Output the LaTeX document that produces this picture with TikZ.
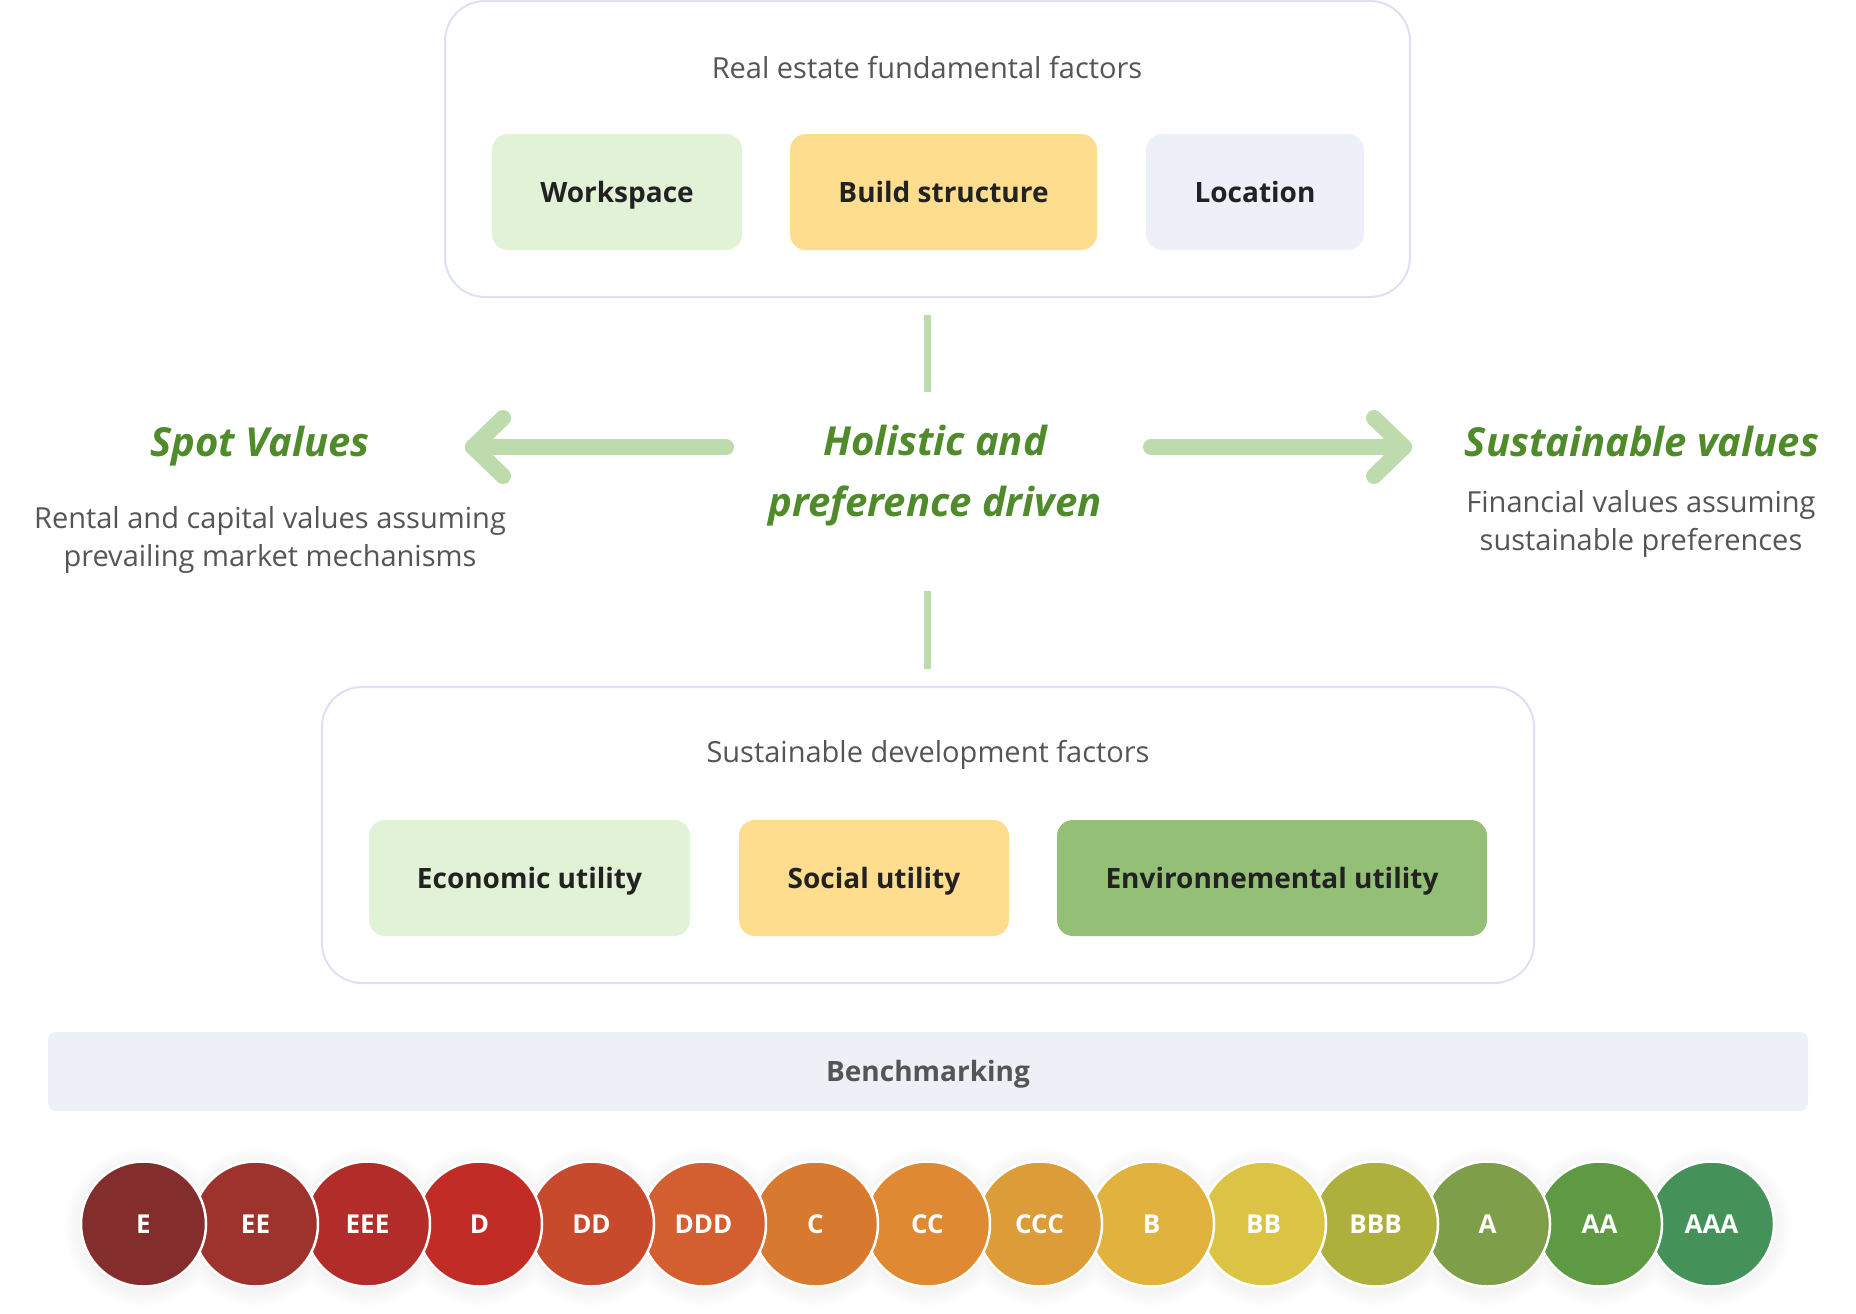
\documentclass[tikz,border=0pt]{standalone}
\usepackage{fontspec}
\setmainfont{Open Sans}
\definecolor{boxline}{HTML}{DDE1F3}
\definecolor{labeltext}{HTML}{222222}
\definecolor{graytext}{HTML}{555555}
\definecolor{arrowgreen}{HTML}{BDDBAC}
\definecolor{headgreen}{HTML}{4F8A2B}
\definecolor{fwork}{HTML}{E1F2D7}
\definecolor{fbuild}{HTML}{FEDD8E}
\definecolor{floc}{HTML}{EDF0F9}
\definecolor{fenv}{HTML}{94BF77}
\definecolor{fbench}{HTML}{EEF0F8}
\definecolor{cE}{HTML}{832E2C}
\definecolor{cEE}{HTML}{9E332E}
\definecolor{cEEE}{HTML}{B22D29}
\definecolor{cD}{HTML}{C12D26}
\definecolor{cDD}{HTML}{C84A2D}
\definecolor{cDDD}{HTML}{D35F31}
\definecolor{cC}{HTML}{D7792E}
\definecolor{cCC}{HTML}{DF8A33}
\definecolor{cCCC}{HTML}{DC9C38}
\definecolor{cB}{HTML}{E1B33E}
\definecolor{cBB}{HTML}{DBC443}
\definecolor{cBBB}{HTML}{AEB03E}
\definecolor{cA}{HTML}{7F9E4A}
\definecolor{cAA}{HTML}{5E9A44}
\definecolor{cAAA}{HTML}{45915A}
\tikzset{
 outerbox/.style={draw=boxline, line width=2pt, rounded corners=40pt, fill=white, inner sep=0pt},
 factor/.style={rounded corners=16pt, font=\bfseries\fontsize{28}{34}\selectfont, text=labeltext, text height=20pt, text depth=0pt, inner sep=0pt, minimum height=116pt},
 boxtitle/.style={font=\fontsize{29}{35}\selectfont, text=graytext},
 conn/.style={draw=arrowgreen, line width=7pt},
 bigarrow/.style={draw=arrowgreen, line width=16pt, line cap=round, line join=round},
 heading/.style={font=\bfseries\itshape\fontsize{40}{61}\selectfont, text=headgreen, align=center},
 desc/.style={font=\fontsize{29}{38}\selectfont, text=graytext, align=center},
 rating/.style={circle, draw=white, line width=2.5pt, minimum size=125pt, inner sep=0pt, font=\bfseries\fontsize{26}{30}\selectfont, text=white, text height=19pt, text depth=0pt},
}
\begin{document}
\begin{tikzpicture}[x=1pt,y=-1pt]
\useasboundingbox[fill=white] (0,0) rectangle (1856,1314);

% top box
\node[outerbox, minimum width=965pt, minimum height=296pt] (top) at (927.5,149) {};
\node[boxtitle] (toptitle) at (927,68) {Real estate fundamental factors};
\node[factor, fill=fwork, minimum width=250pt] (work) at (617,192) {Workspace};
\node[factor, fill=fbuild, minimum width=307pt] (build) at (943.5,192) {Build structure};
\node[factor, fill=floc, minimum width=218pt] (loc) at (1255,192) {Location};

% centre
\node[heading] (holistic) at (935,476) {Holistic and\\preference driven};
\node[heading] (spot) at (260,446) {Spot Values};
\node[desc] (spotdesc) at (270,540) {Rental and capital values assuming\\prevailing market mechanisms};
\node[heading] (sust) at (1642,441) {Sustainable values};
\node[desc] (sustdesc) at (1641,524) {Financial values assuming\\sustainable preferences};

% connectors
\coordinate (c1a) at (927,315);
\coordinate (c1b) at (927,392);
\draw[conn] (c1a) -- (c1b);
\coordinate (c2a) at (927,591);
\coordinate (c2b) at (927,669);
\draw[conn] (c2a) -- (c2b);

% arrows
\coordinate (la) at (726,447);
\coordinate (lt) at (473,447);
\draw[bigarrow] (la) -- (lt);
\draw[bigarrow] ([shift={(30,-29)}]lt) -- (lt) -- ([shift={(30,29)}]lt);
\coordinate (ra) at (1151,447);
\coordinate (rt) at (1404,447);
\draw[bigarrow] (ra) -- (rt);
\draw[bigarrow] ([shift={(-30,-29)}]rt) -- (rt) -- ([shift={(-30,29)}]rt);

% bottom box
\node[outerbox, minimum width=1212pt, minimum height=296pt] (bottom) at (928,835) {};
\node[boxtitle] (bottitle) at (928,755) {Sustainable development factors};
\node[factor, fill=fwork, minimum width=321pt] (econ) at (529.5,878) {Economic utility};
\node[factor, fill=fbuild, minimum width=270pt] (social) at (874,878) {Social utility};
\node[factor, fill=fenv, minimum width=430pt] (env) at (1272,878) {Environnemental utility};

% benchmarking
\node[fill=fbench, rounded corners=8pt, minimum width=1760pt, minimum height=79pt, inner sep=0pt,
      font=\bfseries\fontsize{28}{32}\selectfont, text=graytext, text height=20pt, text depth=0pt] (bench) at (928,1071.5) {Benchmarking};

% soft shadow behind the rating circles
\foreach \rr in {64,67,70,73,76,79}{
  \fill[black, opacity=0.008] \foreach \i in {0,...,14}{ ({143.5+112*\i},1227) circle (\rr) };
}
% rating circles (drawn right to left)
\foreach \i/\lab in {14/AAA,13/AA,12/A,11/BBB,10/BB,9/B,8/CCC,7/CC,6/C,5/DDD,4/DD,3/D,2/EEE,1/EE,0/E}{
  \node[rating, fill=c\lab] (r\i) at ({143.5+112*\i},1224) {\lab};
}
\end{tikzpicture}
\end{document}
